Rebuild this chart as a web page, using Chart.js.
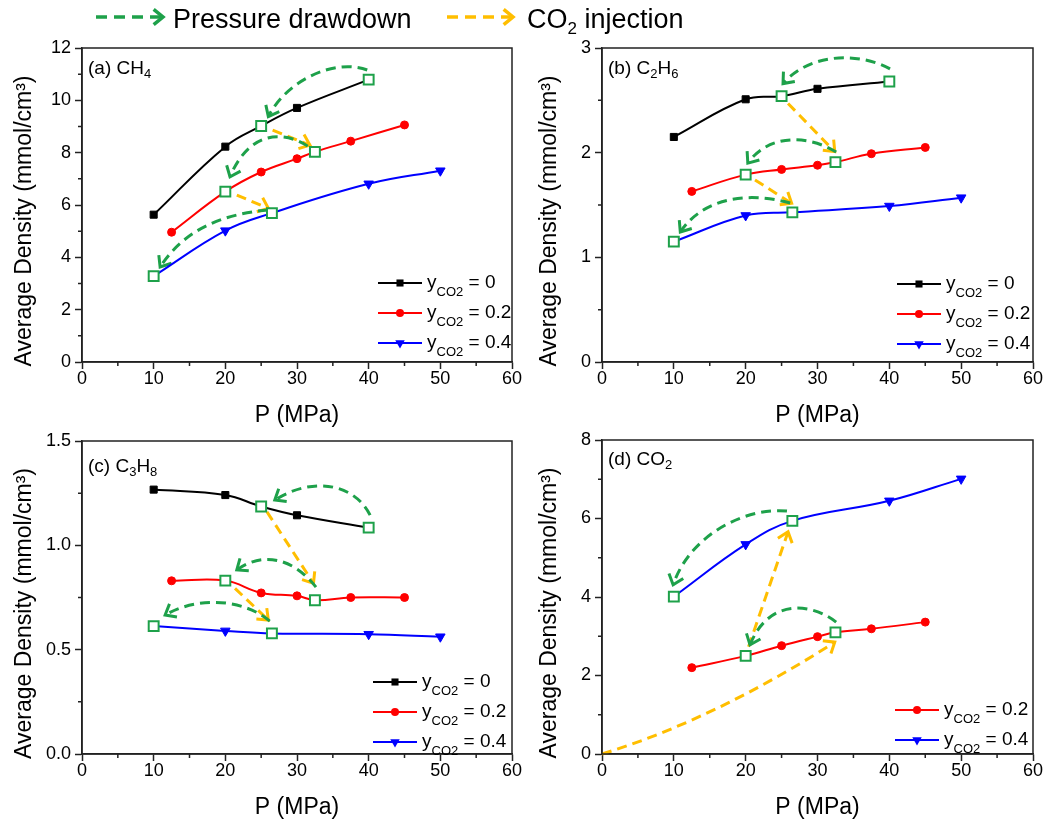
<!DOCTYPE html>
<html>
<head>
<meta charset="utf-8">
<script src="https://cdn.jsdelivr.net/npm/chart.js@4.4.1/dist/chart.umd.min.js"></script>
<style>
  body { margin: 0; background: #fff; }
  #wrap { position: relative; width: 1049px; height: 826px; overflow: hidden; background: #fff; }
  canvas { position: absolute; }
</style>
</head>
<body>
<div id="wrap">
  <canvas id="chartA" width="525" height="404" style="left:0;top:30px"></canvas>
  <canvas id="chartB" width="524" height="404" style="left:525px;top:30px"></canvas>
  <canvas id="chartC" width="525" height="406" style="left:0;top:420px"></canvas>
  <canvas id="chartD" width="524" height="406" style="left:525px;top:420px"></canvas>
  <canvas id="topLegend" width="1049" height="42" style="left:0;top:0"></canvas>
</div>
<script>
// pressures (MPa) for each CO2 fraction
const pY0 = [10, 20, 25, 30, 40];
const pY02 = [12.5, 20, 25, 30, 32.5, 37.5, 45];
const pY04 = [10, 20, 26.5, 40, 50];

// average density (mmol/cm3)
const ch4Y0 = [5.63, 8.23, 9.02, 9.71, 10.79];
const ch4Y02 = [4.96, 6.51, 7.26, 7.77, 8.03, 8.44, 9.06];
const ch4Y04 = [3.28, 5.02, 5.69, 6.81, 7.31];

const c2h6Y0 = [2.15, 2.51, 2.54, 2.61, 2.68];
const c2h6Y02 = [1.63, 1.79, 1.84, 1.88, 1.91, 1.99, 2.05];
const c2h6Y04 = [1.15, 1.40, 1.43, 1.49, 1.57];

const c3h8Y0 = [1.267, 1.241, 1.186, 1.144, 1.085];
const c3h8Y02 = [0.830, 0.831, 0.772, 0.758, 0.737, 0.750, 0.750];
const c3h8Y04 = [0.613, 0.590, 0.578, 0.574, 0.562];

const co2Y02 = [2.20, 2.50, 2.76, 2.99, 3.10, 3.19, 3.36];
const co2Y04 = [4.01, 5.34, 5.94, 6.45, 7.01];

// states marked with open squares (index into each series)
const markY0 = [2, 4];
const markY02 = [1, 4];
const markY04 = [0, 2];

// axis ticks
const xTicks = [0, 10, 20, 30, 40, 50, 60];
const yMaxA = 12, yStepA = 2;
const yMaxB = 3, yStepB = 1;
const yMaxC = 1.5, yStepC = 0.5;
const yMaxD = 8, yStepD = 2;

// process arrows in data units: 2 points = straight, 4 points = curve
const arrowsA = [
  { kind: 'drawdown', pts: [[39.8, 11.16], [35.3, 11.62], [28.6, 10.78], [26.0, 9.38]] },
  { kind: 'injection', pts: [[26.6, 8.86], [31.8, 8.29]] },
  { kind: 'drawdown', pts: [[31.5, 8.25], [29.0, 8.71], [23.7, 9.06], [20.65, 7.08]] },
  { kind: 'injection', pts: [[21.6, 6.38], [26.0, 5.87]] },
  { kind: 'drawdown', pts: [[25.95, 5.81], [19.95, 5.66], [14.4, 5.12], [10.9, 3.63]] }
];
const arrowsB = [
  { kind: 'drawdown', pts: [[40.1, 2.80], [35.9, 2.96], [29.0, 2.96], [25.2, 2.66]] },
  { kind: 'injection', pts: [[25.9, 2.47], [32.4, 2.01]] },
  { kind: 'drawdown', pts: [[32.6, 2.006], [29.0, 2.159], [23.4, 2.197], [20.3, 1.90]] },
  { kind: 'injection', pts: [[21.3, 1.739], [26.4, 1.516]] },
  { kind: 'drawdown', pts: [[26.2, 1.519], [20.6, 1.624], [14.3, 1.586], [10.9, 1.242]] }
];
const arrowsC = [
  { kind: 'drawdown', pts: [[40.2, 1.145], [38.1, 1.289], [32.5, 1.337], [26.9, 1.217]] },
  { kind: 'injection', pts: [[25.8, 1.161], [32.3, 0.818]] },
  { kind: 'drawdown', pts: [[32.65, 0.800], [29.7, 0.930], [25.5, 0.978], [21.6, 0.882]] },
  { kind: 'injection', pts: [[21.35, 0.794], [26.0, 0.642]] },
  { kind: 'drawdown', pts: [[26.2, 0.637], [22.7, 0.738], [16.5, 0.762], [11.6, 0.666]] }
];
const arrowsD = [
  { kind: 'drawdown', pts: [[25.75, 6.19], [19.9, 6.29], [12.25, 5.58], [9.9, 4.31]] },
  { kind: 'injection', pts: [[20.4, 2.73], [25.9, 5.66]] },
  { kind: 'drawdown', pts: [[32.6, 3.36], [29.65, 3.80], [23.4, 4.05], [20.6, 2.78]] },
  { kind: 'injection', pts: [[0, 0], [10.9, 0.61], [22.0, 1.63], [32.4, 2.85]] }
];

const FONT = '"Liberation Sans", Arial, sans-serif';
const GREEN = '#1ea14a';
const ORANGE = '#ffbe00';
const AXIS = '#222222';
const arrowColor = { drawdown: GREEN, injection: ORANGE };

const seriesStyle = {
  y0: { value: '0', color: '#000000', style: 'rect', radius: 5 },
  y02: { value: '0.2', color: '#ff0000', style: 'circle', radius: 4 },
  y04: { value: '0.4', color: '#0000ff', style: 'triangleDown', radius: 5.5 }
};

Chart.defaults.font.family = FONT;

function drawMarker(ctx, style, x, y, r, color) {
  ctx.save();
  ctx.fillStyle = color;
  ctx.beginPath();
  if (style === 'rect') {
    const h = r * Math.SQRT1_2;
    ctx.rect(x - h, y - h, 2 * h, 2 * h);
  } else if (style === 'circle') {
    ctx.arc(x, y, r, 0, Math.PI * 2);
  } else {
    const s = r * Math.sin(Math.PI / 3);
    ctx.moveTo(x, y + r);
    ctx.lineTo(x - s, y - r / 2);
    ctx.lineTo(x + s, y - r / 2);
    ctx.closePath();
  }
  ctx.fill();
  ctx.restore();
}

function drawArrow(ctx, p, color, width, dash, head) {
  ctx.save();
  ctx.strokeStyle = color;
  ctx.lineWidth = width;
  ctx.setLineDash(dash);
  ctx.beginPath();
  ctx.moveTo(p[0].x, p[0].y);
  if (p.length === 4) {
    ctx.bezierCurveTo(p[1].x, p[1].y, p[2].x, p[2].y, p[3].x, p[3].y);
  } else {
    ctx.lineTo(p[1].x, p[1].y);
  }
  ctx.stroke();
  const end = p[p.length - 1];
  const prev = p[p.length - 2];
  const ang = Math.atan2(end.y - prev.y, end.x - prev.x);
  ctx.setLineDash([]);
  ctx.lineJoin = 'miter';
  ctx.beginPath();
  ctx.moveTo(end.x - head * Math.cos(ang - 0.68), end.y - head * Math.sin(ang - 0.68));
  ctx.lineTo(end.x, end.y);
  ctx.lineTo(end.x - head * Math.cos(ang + 0.68), end.y - head * Math.sin(ang + 0.68));
  ctx.stroke();
  ctx.restore();
}

// text with subscripts: segs = [[text, isSub], ...]
function drawRich(ctx, x, y, segs, size, subSize, subDy) {
  ctx.save();
  ctx.fillStyle = '#000';
  ctx.textAlign = 'left';
  segs.forEach(function (s) {
    ctx.font = (s[1] ? subSize : size) + 'px ' + FONT;
    ctx.fillText(s[0], x, s[1] ? y + subDy : y);
    x += ctx.measureText(s[0]).width;
  });
  ctx.restore();
}

function makeDataset(xs, ys, key, marks) {
  const s = seriesStyle[key];
  const isMark = ctx => marks.includes(ctx.dataIndex);
  return {
    data: xs.map((x, i) => ({ x: x, y: ys[i] })),
    borderColor: s.color,
    backgroundColor: s.color,
    borderWidth: 2,
    tension: 0.4,
    pointStyle: ctx => isMark(ctx) ? 'rect' : (s.style === 'triangleDown' ? 'triangle' : s.style),
    pointRotation: ctx => (!isMark(ctx) && s.style === 'triangleDown') ? 180 : 0,
    pointRadius: ctx => isMark(ctx) ? 7 : s.radius,
    pointBackgroundColor: ctx => isMark(ctx) ? '#ffffff' : s.color,
    pointBorderColor: ctx => isMark(ctx) ? GREEN : s.color,
    pointBorderWidth: ctx => isMark(ctx) ? 2 : 1
  };
}

function panelPlugin(cfg) {
  return {
    id: 'panel',
    beforeDatasetsDraw(chart) {
      const ctx = chart.ctx, xs = chart.scales.x, ys = chart.scales.y;
      cfg.arrows.forEach(function (a) {
        const p = a.pts.map(q => ({ x: xs.getPixelForValue(q[0]), y: ys.getPixelForValue(q[1]) }));
        drawArrow(ctx, p, arrowColor[a.kind], 3, [10, 6], 12);
      });
    },
    afterDraw(chart) {
      const ctx = chart.ctx, a = chart.chartArea;
      const xs = chart.scales.x, ys = chart.scales.y;
      ctx.save();
      ctx.strokeStyle = AXIS;
      ctx.lineWidth = 1.5;
      ctx.strokeRect(a.left, a.top, a.right - a.left, a.bottom - a.top);
      // minor ticks
      ctx.beginPath();
      for (let i = 0; i < xTicks.length - 1; i++) {
        const px = xs.getPixelForValue((xTicks[i] + xTicks[i + 1]) / 2);
        ctx.moveTo(px, a.bottom);
        ctx.lineTo(px, a.bottom + 4);
      }
      for (let v = cfg.yStep / 2; v < cfg.yMax; v += cfg.yStep) {
        const py = ys.getPixelForValue(v);
        ctx.moveTo(a.left, py);
        ctx.lineTo(a.left - 4, py);
      }
      ctx.stroke();
      ctx.restore();

      // panel label
      drawRich(ctx, a.left + 6, a.top + cfg.labelDy, cfg.label, 19, 13, 4);

      // legend
      const lx = a.right - cfg.legendDx;
      const n = cfg.legend.length;
      cfg.legend.forEach(function (key, i) {
        const s = seriesStyle[key];
        const ry = a.bottom - cfg.legendDy - (n - 1 - i) * 30;
        ctx.save();
        ctx.strokeStyle = s.color;
        ctx.lineWidth = 2;
        ctx.beginPath();
        ctx.moveTo(lx, ry);
        ctx.lineTo(lx + 44, ry);
        ctx.stroke();
        ctx.restore();
        drawMarker(ctx, s.style, lx + 22, ry, s.radius, s.color);
        ctx.save();
        ctx.textBaseline = 'middle';
        drawRich(ctx, lx + 49, ry, [['y', false], ['CO2', true], [' = ' + s.value, false]], 19, 13, 9);
        ctx.restore();
      });
    }
  };
}

function buildChart(id, cfg) {
  return new Chart(document.getElementById(id), {
    type: 'line',
    data: { datasets: cfg.datasets },
    options: {
      responsive: false,
      animation: false,
      layout: { padding: { left: 0, right: cfg.padRight, top: cfg.padTop, bottom: 0 } },
      scales: {
        x: {
          type: 'linear',
          min: 0,
          max: 60,
          afterBuildTicks: s => { s.ticks = xTicks.map(v => ({ value: v })); },
          ticks: { font: { size: 18, lineHeight: 1 }, color: '#000', padding: 1, maxRotation: 0 },
          grid: { drawOnChartArea: false, tickLength: 7, tickColor: AXIS, tickWidth: 1.5 },
          border: { color: AXIS, width: 1.5 },
          title: { display: true, text: 'P (MPa)', font: { size: 23 }, color: '#000', padding: { top: 0, bottom: 5 } },
          afterFit: s => { s.height = 72; }
        },
        y: {
          type: 'linear',
          min: 0,
          max: cfg.yMax,
          ticks: {
            stepSize: cfg.yStep,
            font: { size: 18 },
            color: '#000',
            padding: 4,
            callback: v => cfg.decimals ? Number(v).toFixed(cfg.decimals) : v
          },
          grid: { drawOnChartArea: false, tickLength: 7, tickColor: AXIS, tickWidth: 1.5 },
          border: { color: AXIS, width: 1.5 },
          title: { display: true, text: 'Average Density (mmol/cm³)     ', font: { size: 23 }, color: '#000', padding: { top: 11, bottom: 0 } },
          afterFit: s => { s.width = cfg.yWidth; }
        }
      },
      plugins: { legend: { display: false }, tooltip: { enabled: false } }
    },
    plugins: [panelPlugin(cfg)]
  });
}

buildChart('chartA', {
  datasets: [
    makeDataset(pY0, ch4Y0, 'y0', markY0),
    makeDataset(pY02, ch4Y02, 'y02', markY02),
    makeDataset(pY04, ch4Y04, 'y04', markY04)
  ],
  yMax: yMaxA, yStep: yStepA, yWidth: 82, padRight: 13, padTop: 18,
  arrows: arrowsA,
  label: [['(a) CH', false], ['4', true]], labelDy: 26,
  legend: ['y0', 'y02', 'y04'], legendDx: 134, legendDy: 19
});

buildChart('chartB', {
  datasets: [
    makeDataset(pY0, c2h6Y0, 'y0', markY0),
    makeDataset(pY02, c2h6Y02, 'y02', markY02),
    makeDataset(pY04, c2h6Y04, 'y04', markY04)
  ],
  yMax: yMaxB, yStep: yStepB, yWidth: 77, padRight: 16, padTop: 18,
  arrows: arrowsB,
  label: [['(b) C', false], ['2', true], ['H', false], ['6', true]], labelDy: 26,
  legend: ['y0', 'y02', 'y04'], legendDx: 136, legendDy: 18
});

buildChart('chartC', {
  datasets: [
    makeDataset(pY0, c3h8Y0, 'y0', markY0),
    makeDataset(pY02, c3h8Y02, 'y02', markY02),
    makeDataset(pY04, c3h8Y04, 'y04', markY04)
  ],
  yMax: yMaxC, yStep: yStepC, yWidth: 82, padRight: 13, padTop: 21, decimals: 1,
  arrows: arrowsC,
  label: [['(c) C', false], ['3', true], ['H', false], ['8', true]], labelDy: 31,
  legend: ['y0', 'y02', 'y04'], legendDx: 139, legendDy: 12
});

buildChart('chartD', {
  datasets: [
    makeDataset(pY02, co2Y02, 'y02', markY02),
    makeDataset(pY04, co2Y04, 'y04', markY04)
  ],
  yMax: yMaxD, yStep: yStepD, yWidth: 77, padRight: 16, padTop: 20,
  arrows: arrowsD,
  label: [['(d) CO', false], ['2', true]], labelDy: 25,
  legend: ['y02', 'y04'], legendDx: 138, legendDy: 14
});

// figure legend for the process arrows
(function () {
  const ctx = document.getElementById('topLegend').getContext('2d');
  drawArrow(ctx, [{ x: 96, y: 17 }, { x: 163, y: 17 }], GREEN, 3.5, [11, 7], 12);
  drawRich(ctx, 173, 28, [['Pressure drawdown', false]], 27, 17, 6);
  drawArrow(ctx, [{ x: 447, y: 17 }, { x: 513, y: 17 }], ORANGE, 3.5, [11, 7], 12);
  drawRich(ctx, 527, 28, [['CO', false], ['2', true], [' injection', false]], 27, 17, 6);
})();
</script>
</body>
</html>
